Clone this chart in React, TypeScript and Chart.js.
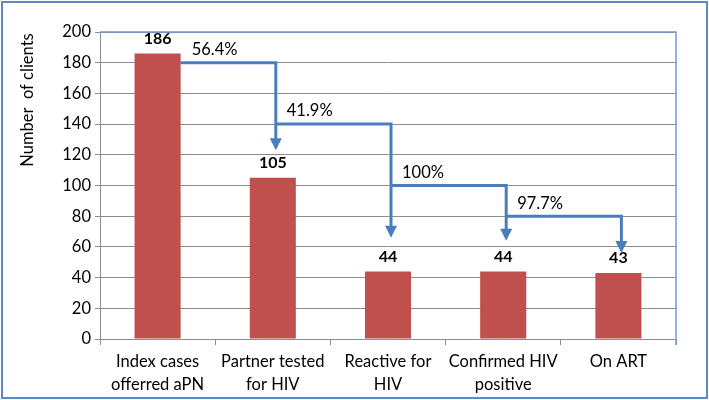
import React, { useEffect, useRef } from "react";
import { Chart, registerables } from "chart.js";

Chart.register(...registerables);

const categories: string[][] = [
  ["Index cases", "offerred aPN"],
  ["Partner tested", "for HIV"],
  ["Reactive for", "HIV"],
  ["Confirmed HIV", "positive"],
  ["On ART"],
];
const clients = [186, 105, 44, 44, 43];
const stepPercents = ["56.4%", "41.9%", "100%", "97.7%"];
const stepLevels = [180, 140, 100, 80];
const stepTips = [123, 66, 64, 56];
const yTitle = "Number  of clients";
const yMin = 0;
const yMax = 200;
const yStep = 20;

const FONT = "Lato";
const BLUE = "#4A7EBB";
const GRID = "#8c8c8c";

const overlay = {
  id: "overlay",
  afterDraw(chart: any) {
    const { ctx, chartArea: a, scales } = chart;
    const y = scales.y;
    const meta = chart.getDatasetMeta(0);
    ctx.save();

    // plot area border (top/right)
    ctx.strokeStyle = "#7199cf";
    ctx.lineWidth = 1.5;
    ctx.beginPath();
    ctx.moveTo(a.left, a.top);
    ctx.lineTo(a.right, a.top);
    ctx.lineTo(a.right, a.bottom + 6);
    ctx.stroke();

    // outer border
    ctx.strokeStyle = "#5b8ac6";
    ctx.lineWidth = 2;
    ctx.strokeRect(2, 2, chart.width - 4, chart.height - 4);

    // y title
    ctx.save();
    ctx.translate(28, 100);
    ctx.rotate(-Math.PI / 2);
    ctx.fillStyle = "#000";
    ctx.font = `16.5px ${FONT}`;
    ctx.textAlign = "center";
    ctx.textBaseline = "middle";
    ctx.fillText(yTitle, 0, 0);
    ctx.restore();

    // value labels
    ctx.fillStyle = "#000";
    ctx.font = `bold 16px ${FONT}`;
    ctx.textAlign = "center";
    ctx.textBaseline = "middle";
    meta.data.forEach((bar: any, i: number) => {
      ctx.fillText(String(clients[i]), bar.x, bar.y - 15);
    });

    // step arrows
    ctx.strokeStyle = BLUE;
    ctx.fillStyle = BLUE;
    ctx.lineWidth = 3;
    for (let i = 0; i < stepPercents.length; i++) {
      const from = meta.data[i];
      const to = meta.data[i + 1];
      const xStart = i === 0 ? from.x + from.width / 2 : from.x + 3;
      const xEnd = to.x + 3;
      const yL = y.getPixelForValue(stepLevels[i]);
      const yT = y.getPixelForValue(stepTips[i]);
      ctx.beginPath();
      ctx.moveTo(xStart, yL);
      ctx.lineTo(xEnd, yL);
      ctx.lineTo(xEnd, yT - 10);
      ctx.stroke();
      ctx.beginPath();
      ctx.moveTo(xEnd - 6, yT - 12);
      ctx.lineTo(xEnd + 6, yT - 12);
      ctx.lineTo(xEnd, yT);
      ctx.closePath();
      ctx.fill();

      ctx.save();
      ctx.fillStyle = "#000";
      ctx.font = `16.5px ${FONT}`;
      ctx.textAlign = "left";
      ctx.textBaseline = "middle";
      ctx.fillText(stepPercents[i], xStart + 11, yL - 13);
      ctx.restore();
    }
    ctx.restore();
  },
};

export default function App() {
  const ref = useRef<HTMLCanvasElement | null>(null);
  useEffect(() => {
    document.body.style.margin = "0";
    const canvas = ref.current!;
    const chart = new Chart(canvas, {
      type: "bar",
      data: {
        labels: categories as any,
        datasets: [
          {
            data: clients,
            backgroundColor: "#C0504D",
            categoryPercentage: 1,
            barPercentage: 0.4,
          },
        ],
      },
      options: {
        animation: false,
        responsive: false,
        devicePixelRatio: 1,
        layout: { padding: { top: 32, right: 33, left: 0, bottom: 0 } },
        plugins: {
          legend: { display: false },
          tooltip: { enabled: false },
        },
        scales: {
          y: {
            min: yMin,
            max: yMax,
            ticks: {
              stepSize: yStep,
              color: "#000",
              font: { family: FONT, size: 16.5 },
              padding: 4,
            },
            grid: { color: GRID, tickLength: 5, lineWidth: 1 },
            border: { color: GRID, width: 1 },
            afterFit: (s: any) => {
              s.width = 100;
            },
          },
          x: {
            offset: true,
            ticks: {
              color: "#000",
              font: { family: FONT, size: 16.5, lineHeight: 1.35 },
              padding: 6,
              maxRotation: 0,
              autoSkip: false,
            },
            grid: {
              drawOnChartArea: false,
              tickLength: 6,
              color: GRID,
              offset: true,
            },
            border: { color: GRID, width: 1 },
            afterFit: (s: any) => {
              s.height = 61;
            },
          },
        },
      },
      plugins: [overlay],
    });
    return () => chart.destroy();
  }, []);
  return <canvas ref={ref} width={709} height={400} style={{ display: "block" }} />;
}
